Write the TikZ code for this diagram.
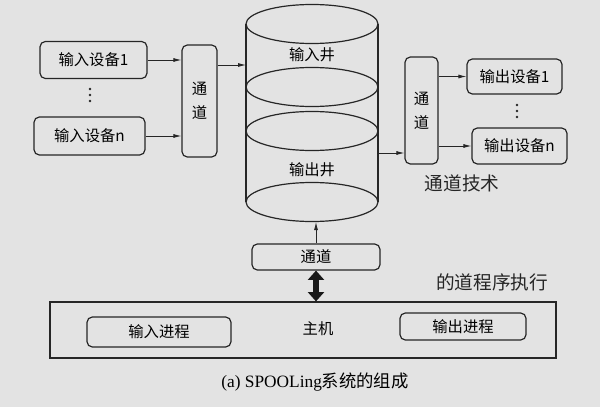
\documentclass[tikz,border=0pt]{standalone}
\usepackage{fontspec}
\setmainfont{Liberation Serif}
\newfontfamily\cjk{Noto Sans CJK SC}
\usetikzlibrary{arrows.meta,positioning,calc}

\begin{document}
\begin{tikzpicture}[x=0.75pt,y=-0.75pt,>={Latex[length=6pt,width=3pt]},font=\cjk\fontsize{11.5}{13}\selectfont,
    box/.style={draw=black!85,line width=0.9pt,rounded corners=4pt,inner sep=0pt},
    chbox/.style={box,align=center},
    wire/.style={->,draw=black!85,line width=0.6pt},
    hand/.style={font=\cjk\fontsize{14}{16}\selectfont,text=black!85}]
  \fill[black!11] (0,0) rectangle (600,407);
  \useasboundingbox (0,0) rectangle (600,407);
  % input side
  \node[box,minimum width=80.25pt,minimum height=27.75pt] (in1) at (93.5,60) {输入设备1};
  \node[box,minimum width=83.25pt,minimum height=28.5pt] (inn) at (89.5,136) {输入设备n};
  \node[chbox,minimum width=26.25pt,minimum height=84pt] (inch) at (199.5,101) {通\\[5pt]道};
  % the well
  \draw[black!85,line width=0.9pt] (246,24) -- (246,202) (378,24) -- (378,202);
  \foreach \yy in {24,87,131,202}
    \draw[black!85,line width=0.9pt] (312,\yy) ellipse [x radius=66,y radius=19.5];
  \node (inwell) at (312,55) {输入井};
  \node (outwell) at (312,170) {输出井};
  \coordinate (wellin) at (246,65);
  \coordinate (wellout) at (378,153);
  \coordinate (wellbot) at (316,222);
  % output side
  \node[chbox,minimum width=24.75pt,minimum height=80.25pt] (outch) at (421.5,110.5) {通\\[5pt]道};
  \node[box,minimum width=71.25pt,minimum height=26.25pt] (out1) at (514.5,76.5) {输出设备1};
  \node[box,minimum width=71.25pt,minimum height=27pt] (outn) at (519.5,146) {输出设备n};
  % dots between the devices
  \foreach \yy in {89,95,101} \fill[black!85] (90,\yy) circle (1.4);
  \foreach \yy in {105,111,117} \fill[black!85] (517,\yy) circle (1.4);
  % host
  \node[box,minimum width=96pt,minimum height=19.5pt] (botch) at (316,257) {通道};
  \node[draw=black!85,line width=0.9pt,minimum width=379.5pt,minimum height=42pt,inner sep=0pt] (host) at (303,330) {};
  \node (hostlbl) at (318,329) {主机};
  \node[box,minimum width=108pt,minimum height=22.5pt] (inproc) at (159,332) {输入进程};
  \node[box,minimum width=94.5pt,minimum height=20.25pt] (outproc) at (463,326.5) {输出进程};
  % connectors
  \draw[wire] (in1.east) -- (in1.east -| inch.west);
  \draw[wire] (inn.east) -- (inn.east -| inch.west);
  \draw[wire] (inch.east |- wellin) -- (wellin);
  \draw[wire] (wellout) -- (wellout -| outch.west);
  \draw[wire] (outch.east |- out1) -- (out1.west);
  \draw[wire] (outch.east |- outn) -- (outn.west);
  \draw[wire] (botch.north) -- (wellbot);
  \draw[black!90,line width=4.5pt,{Triangle[length=7pt,width=12pt]}-{Triangle[length=7pt,width=12pt]}] (botch.south) -- (botch.south |- host.north);
  % notes
  \node[hand] (note1) at (462,183) {通道技术};
  \node[hand] (note2) at (492,282) {的道程序执行};
  \node[font=\fontsize{13}{15}\selectfont] (caption) at (315,382) {(a) SPOOLing{\cjk 系统的组成}};
\end{tikzpicture}
\end{document}
